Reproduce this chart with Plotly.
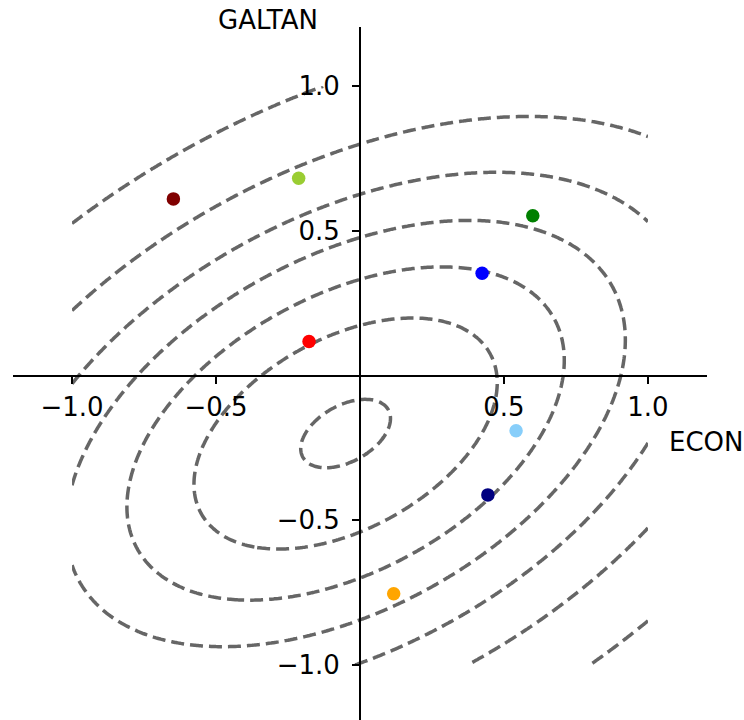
import numpy as np
import plotly.graph_objects as go

# Party positions (ECON, GALTAN) and colours
party_econ = [-0.648, -0.213, 0.600, 0.424, -0.177, 0.542, 0.444, 0.117]
party_galtan = [0.611, 0.682, 0.553, 0.354, 0.118, -0.190, -0.412, -0.754]
party_colors = ["#800000", "#9acd32", "#008000", "#0000ff", "#ff0000",
                "#87cefa", "#000080", "#ffa500"]

# Axis ticks
tick_values = [-1.0, -0.5, 0.5, 1.0]
tick_labels = ["\u22121.0", "\u22120.5", "0.5", "1.0"]

# Voter density surface
density_center = [-0.05, -0.2]
density_quad = [0.759, -0.44, 1.32]      # a, b, c of a*u^2 + 2*b*u*v + c*v^2
contour_start, contour_end, contour_step = 0.137, 0.99, 0.14137
grid_limits = [-1.0, 1.0]
grid_n = 241

gx = np.linspace(grid_limits[0], grid_limits[1], grid_n)
gy = np.linspace(grid_limits[0], grid_limits[1], grid_n)
U, V = np.meshgrid(gx - density_center[0], gy - density_center[1])
a, b, c = density_quad
Z = np.exp(-(a * U**2 + 2 * b * U * V + c * V**2))

fig = go.Figure()
fig.add_trace(go.Contour(
    x=gx, y=gy, z=Z,
    autocontour=False,
    contours=dict(coloring="lines", start=contour_start, end=contour_end,
                  size=contour_step, showlabels=False),
    line=dict(width=3.5, dash="13px,6px", smoothing=1),
    colorscale=[[0, "#666666"], [1, "#666666"]],
    showscale=False, hoverinfo="skip",
))
fig.add_trace(go.Scatter(
    x=party_econ, y=party_galtan, mode="markers",
    marker=dict(size=13.5, color=party_colors, line=dict(width=0)),
    hoverinfo="skip",
))

font = dict(family="DejaVu Sans", size=26, color="black")
xr = [-1.205, 1.205]
yr = [-1.19, 1.205]
axis_common = dict(showline=True, linecolor="black", linewidth=2,
                   ticks="outside", ticklen=7, tickwidth=1.6, tickcolor="black",
                   tickvals=tick_values, ticktext=tick_labels,
                   showgrid=False, zeroline=False, tickfont=font)
fig.update_layout(
    width=744, height=720,
    margin=dict(l=13, r=37, t=27, b=0),
    plot_bgcolor="white", paper_bgcolor="white",
    showlegend=False,
    xaxis=dict(range=xr, anchor="free", position=(0 - yr[0]) / (yr[1] - yr[0]),
               ticklabelstandoff=1, **axis_common),
    yaxis=dict(range=yr, anchor="free", position=(0 - xr[0]) / (xr[1] - xr[0]),
               ticklabelstandoff=7, **axis_common),
    annotations=[
        dict(text="GALTAN", xref="x", yref="paper", x=-0.50, y=1.0101,
             xanchor="left", yanchor="middle", showarrow=False, font=font),
        dict(text="ECON", xref="x", yref="y", x=1.066, y=-0.229,
             xanchor="left", yanchor="middle", showarrow=False, font=font),
    ],
)
fig.write_html("out.html",
               config={"displayModeBar": False},
               post_script="document.body.style.margin='0';document.body.style.overflow='hidden';")
